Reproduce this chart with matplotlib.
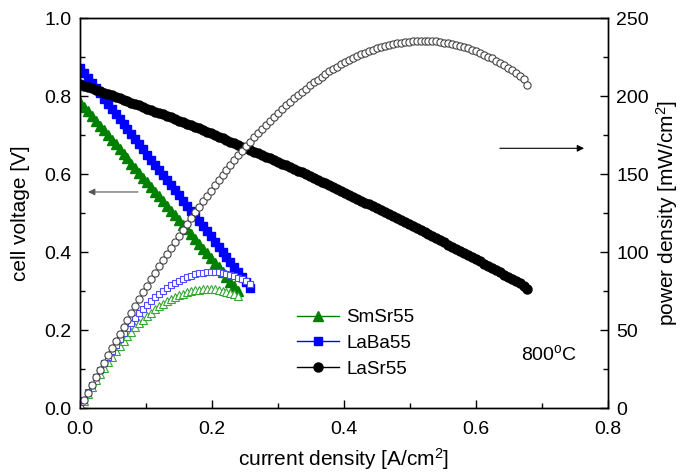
import matplotlib
matplotlib.use("Agg")
import matplotlib.pyplot as plt

plt.rcParams['font.family'] = ['Liberation Sans', 'DejaVu Sans']
plt.rcParams['mathtext.fontset'] = 'custom'
plt.rcParams['mathtext.rm'] = 'Liberation Sans'
plt.rcParams['mathtext.it'] = 'Liberation Sans'

# LaSr55: current density [A/cm2], cell voltage [V], power density [mW/cm2]
j_lasr = [0.000, 0.006, 0.012, 0.018, 0.024, 0.030, 0.036, 0.042, 0.048, 0.054,
          0.060, 0.066, 0.072, 0.078, 0.084, 0.090, 0.096, 0.102, 0.108, 0.114,
          0.120, 0.126, 0.132, 0.138, 0.144, 0.150, 0.156, 0.162, 0.168, 0.174,
          0.180, 0.186, 0.192, 0.198, 0.204, 0.210, 0.216, 0.222, 0.228, 0.234,
          0.240, 0.246, 0.252, 0.258, 0.264, 0.270, 0.276, 0.282, 0.288, 0.294,
          0.300, 0.306, 0.312, 0.318, 0.324, 0.330, 0.336, 0.342, 0.348, 0.354,
          0.360, 0.366, 0.372, 0.378, 0.384, 0.390, 0.396, 0.402, 0.408, 0.414,
          0.420, 0.426, 0.432, 0.438, 0.444, 0.450, 0.456, 0.462, 0.468, 0.474,
          0.480, 0.486, 0.492, 0.498, 0.504, 0.510, 0.516, 0.522, 0.528, 0.534,
          0.540, 0.546, 0.552, 0.558, 0.564, 0.570, 0.576, 0.582, 0.588, 0.594,
          0.600, 0.606, 0.612, 0.618, 0.624, 0.630, 0.636, 0.642, 0.648, 0.654,
          0.660, 0.666, 0.672, 0.677]
v_lasr = [0.830, 0.827, 0.823, 0.820, 0.816, 0.812, 0.809, 0.805, 0.802, 0.798,
          0.794, 0.791, 0.787, 0.783, 0.779, 0.776, 0.772, 0.768, 0.764, 0.760,
          0.756, 0.753, 0.749, 0.745, 0.741, 0.737, 0.733, 0.729, 0.725, 0.721,
          0.717, 0.712, 0.708, 0.704, 0.700, 0.696, 0.692, 0.687, 0.683, 0.679,
          0.675, 0.670, 0.666, 0.662, 0.657, 0.653, 0.649, 0.644, 0.640, 0.635,
          0.631, 0.626, 0.622, 0.617, 0.613, 0.608, 0.604, 0.599, 0.594, 0.590,
          0.585, 0.580, 0.576, 0.571, 0.566, 0.561, 0.556, 0.552, 0.547, 0.542,
          0.537, 0.532, 0.527, 0.522, 0.517, 0.512, 0.507, 0.502, 0.497, 0.492,
          0.487, 0.482, 0.477, 0.472, 0.467, 0.461, 0.456, 0.451, 0.446, 0.440,
          0.435, 0.430, 0.425, 0.419, 0.414, 0.408, 0.403, 0.398, 0.392, 0.387,
          0.381, 0.376, 0.370, 0.365, 0.359, 0.354, 0.348, 0.342, 0.337, 0.331,
          0.325, 0.320, 0.314, 0.306]
p_lasr = [0.0, 5.0, 9.9, 14.8, 19.6, 24.4, 29.1, 33.8, 38.5, 43.1,
          47.7, 52.2, 56.7, 61.1, 65.5, 69.8, 74.1, 78.3, 82.5, 86.7,
          90.8, 94.8, 98.8, 102.8, 106.7, 110.5, 114.3, 118.1, 121.7, 125.4,
          129.0, 132.5, 136.0, 139.4, 142.8, 146.1, 149.4, 152.6, 155.8, 158.9,
          161.9, 164.9, 167.9, 170.7, 173.6, 176.3, 179.0, 181.7, 184.2, 186.8,
          189.2, 191.7, 194.0, 196.3, 198.5, 200.7, 202.8, 204.8, 206.8, 208.7,
          210.6, 212.4, 214.1, 215.8, 217.3, 218.9, 220.3, 221.7, 223.1, 224.4,
          225.5, 226.7, 227.8, 228.7, 229.7, 230.5, 231.3, 232.1, 232.7, 233.3,
          233.8, 234.3, 234.6, 234.9, 235.2, 235.3, 235.4, 235.4, 235.3, 235.2,
          235.0, 234.7, 234.3, 233.9, 233.4, 232.8, 232.1, 231.4, 230.6, 229.7,
          228.7, 227.7, 226.6, 225.3, 224.1, 222.7, 221.3, 219.7, 218.1, 216.4,
          214.6, 212.8, 210.9, 206.8]

# LaBa55
j_laba = [0.000, 0.006, 0.012, 0.018, 0.024, 0.030, 0.036, 0.042, 0.048, 0.054,
          0.060, 0.066, 0.072, 0.078, 0.084, 0.090, 0.096, 0.102, 0.108, 0.114,
          0.120, 0.126, 0.132, 0.138, 0.144, 0.150, 0.156, 0.162, 0.168, 0.174,
          0.180, 0.186, 0.192, 0.198, 0.204, 0.210, 0.216, 0.222, 0.228, 0.234,
          0.240, 0.246, 0.252, 0.258]
v_laba = [0.872, 0.859, 0.846, 0.833, 0.820, 0.807, 0.793, 0.780, 0.767, 0.754,
          0.741, 0.728, 0.715, 0.702, 0.689, 0.676, 0.663, 0.649, 0.636, 0.623,
          0.610, 0.597, 0.584, 0.571, 0.558, 0.545, 0.532, 0.519, 0.505, 0.492,
          0.479, 0.466, 0.453, 0.440, 0.427, 0.414, 0.401, 0.388, 0.375, 0.361,
          0.348, 0.335, 0.322, 0.309]
p_laba = [0.0, 5.2, 10.2, 15.0, 19.7, 24.2, 28.6, 32.8, 36.8, 40.7,
          44.5, 48.1, 51.5, 54.7, 57.9, 60.8, 63.6, 66.2, 68.7, 71.1,
          73.2, 75.2, 77.1, 78.8, 80.3, 81.7, 82.9, 84.0, 84.9, 85.7,
          86.3, 86.7, 87.0, 87.1, 87.1, 86.9, 86.6, 86.1, 85.4, 84.6,
          83.6, 82.5, 81.2, 79.7]

# SmSr55
j_smsr = [0.000, 0.006, 0.012, 0.018, 0.024, 0.030, 0.036, 0.042, 0.048, 0.054,
          0.060, 0.066, 0.072, 0.078, 0.084, 0.090, 0.096, 0.102, 0.108, 0.114,
          0.120, 0.126, 0.132, 0.138, 0.144, 0.150, 0.156, 0.162, 0.168, 0.174,
          0.180, 0.186, 0.192, 0.198, 0.204, 0.210, 0.216, 0.222, 0.228, 0.234,
          0.240]
v_smsr = [0.785, 0.773, 0.761, 0.749, 0.737, 0.724, 0.712, 0.700, 0.688, 0.676,
          0.664, 0.652, 0.640, 0.627, 0.615, 0.603, 0.591, 0.579, 0.567, 0.555,
          0.543, 0.531, 0.518, 0.506, 0.494, 0.482, 0.470, 0.458, 0.446, 0.434,
          0.421, 0.409, 0.397, 0.385, 0.373, 0.361, 0.349, 0.337, 0.324, 0.312,
          0.300]
p_smsr = [0.0, 4.6, 9.1, 13.5, 17.7, 21.7, 25.6, 29.4, 33.0, 36.5,
          39.8, 43.0, 46.1, 48.9, 51.7, 54.3, 56.7, 59.1, 61.2, 63.2,
          65.1, 66.8, 68.4, 69.9, 71.2, 72.3, 73.3, 74.2, 74.9, 75.4,
          75.9, 76.1, 76.3, 76.2, 76.1, 75.8, 75.3, 74.7, 74.0, 73.1,
          72.1]

fig = plt.figure(figsize=(6.8, 4.75), dpi=100)
ax = fig.add_axes([0.1176, 0.141, 0.7765, 0.821])
ax2 = ax.twinx()

ax.plot(j_smsr, v_smsr, '-^', color='#008000', ms=6.5, lw=1, label='SmSr55')
ax.plot(j_laba, v_laba, '-s', color='#0000ff', ms=5.5, lw=1, label='LaBa55')
ax.plot(j_lasr, v_lasr, '-o', color='black', ms=6.5, lw=1, label='LaSr55')

ax2.plot(j_smsr, p_smsr, '^', mfc='white', mec='#33a833', ms=6, mew=0.8, ls='none')
ax2.plot(j_laba, p_laba, 's', mfc='white', mec='#4d4dff', ms=5, mew=0.8, ls='none')
ax2.plot(j_lasr, p_lasr, 'o', mfc='white', mec='#444444', ms=5.2, mew=0.8, ls='none')

ax.set_xlim(0, 0.8)
ax.set_ylim(0, 1.0)
ax2.set_ylim(0, 250)
ax.set_xticks([0.0, 0.2, 0.4, 0.6, 0.8])
ax.set_xticks([0.1, 0.3, 0.5, 0.7], minor=True)
ax.set_yticks([0.0, 0.2, 0.4, 0.6, 0.8, 1.0])
ax.set_yticks([0.1, 0.3, 0.5, 0.7, 0.9], minor=True)
ax2.set_yticks([0, 50, 100, 150, 200, 250])
ax2.set_yticks([25, 75, 125, 175, 225], minor=True)

for a in (ax, ax2):
    a.tick_params(which='major', direction='in', length=6, width=1, labelsize=14, pad=6)
    a.tick_params(which='minor', direction='in', length=3.5, width=1)
    for s in a.spines.values():
        s.set_linewidth(1)
ax.tick_params(axis='x', pad=9)

ax.set_xlabel('current density [A/cm$^2$]', fontsize=15, labelpad=6)
ax.set_ylabel('cell voltage [V]', fontsize=15, labelpad=10)
ax2.set_ylabel('power density [mW/cm$^2$]', fontsize=15, labelpad=4)

ax.annotate('', xy=(0.008, 0.554), xytext=(0.092, 0.554),
            arrowprops=dict(arrowstyle='-|>', color='#555555', lw=0.8, mutation_scale=10))
ax2.annotate('', xy=(0.768, 166.5), xytext=(0.632, 166.5),
             arrowprops=dict(arrowstyle='-|>', color='black', lw=0.8, mutation_scale=10))

ax.text(0.71, 0.138, '800$^{\\rm o}$C', fontsize=14, ha='center', va='center')

ax.legend(loc='lower left', bbox_to_anchor=(0.38, 0.035), frameon=False,
          fontsize=13.5, handlelength=2.2, handletextpad=0.4, labelspacing=0.45)

fig.savefig('out.png', dpi=100)
